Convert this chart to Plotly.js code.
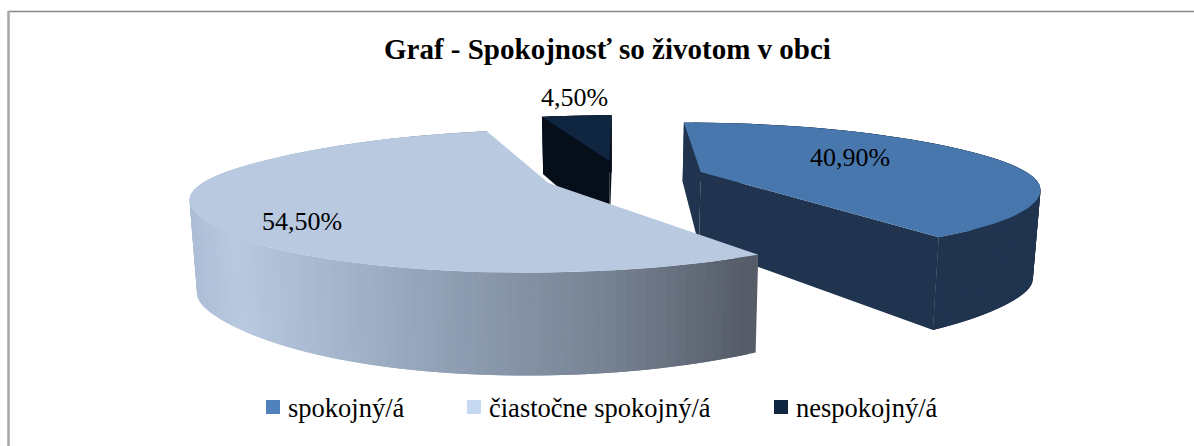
<!DOCTYPE html>
<html><head><meta charset="utf-8">
<script src="https://cdn.plot.ly/plotly-3.0.1.min.js"></script>
<style>html,body{margin:0;padding:0;background:#fff}</style></head>
<body><div id="chart" style="width:1194px;height:446px"></div>
<script>
const chartTitle = "Graf - Spokojnosť so životom v obci";
const categories = ["spokojný/á", "čiastočne spokojný/á", "nespokojný/á"];
const shares = [40.9, 54.5, 4.5];
const shareLabels = ["40,90%", "54,50%", "4,50%"];
const topColors = ["#4877ae", "#b8c9e0", "#0f2540"];
const sideColors = ["#20344f", "#b8c9e0", "#050e19"];
const legendColors = ["#4f81bd", "#c6d9f0", "#10253f"];
const explode = [0.28, 0.22, 0.27];
const nudgeX = [0, 0, 6];
const bulgeAmt = [0.022, 0.04, 0];
const labelXY = [[850, 157], [302, 221], [574, 97]];
const legendXY = [[266, 286], [467, 487], [774, 794]];
// light-slice side shading stops: [pixel x, r, g, b]
const shadeStops = [[190,172,189,214],[240,184,201,224],[470,142,157,177],[620,118,130,146],[756,86,92,104]];

// 3D perspective projection of the pie
const CX = 615, A = 325, K = 0.248, PA = 177, PB = -20.1;
function proj(X, Y, dx){ const w = 1 + K*Y; return [CX + dx + A*X/w, (PA + PB*Y)/w, w]; }
function bulge(t){ return Math.pow(Math.abs(Math.sin(t)), 8); }
function topPt(t, slice){
  const r = t === null ? 0 : 1 + bulgeAmt[slice]*bulge(t);
  const mid = sliceMid[slice], m = explode[slice];
  const X = m*Math.sin(mid) + (t === null ? 0 : r*Math.sin(t));
  const Y = m*Math.cos(mid) + (t === null ? 0 : Math.cos(t));
  const p = proj(X, Y, nudgeX[slice]);
  return {x:p[0], y:p[1], w:p[2], b:t === null ? 0 : bulge(t)};
}
function botPt(q){
  return {x: 612 + (q.x-612)*0.982, y: q.y + 75/q.w + 14*q.b};
}
const total = shares.reduce((a,b)=>a+b,0);
const sliceStart = [], sliceEnd = [], sliceMid = [];
shares.reduce((acc,v,i)=>{ const a=acc/total*2*Math.PI, b=(acc+v)/total*2*Math.PI;
  sliceStart[i]=a; sliceEnd[i]=b; sliceMid[i]=(a+b)/2; return acc+v; },0);

function poly(pts, color){
  return {type:'scatter', mode:'lines', x:pts.map(p=>p.x), y:pts.map(p=>p.y), fill:'toself',
    fillcolor:color, line:{color:color,width:0}, hoverinfo:'skip', showlegend:false};
}
function arc(i, n){ const out=[]; for(let k=0;k<=n;k++){ out.push(topPt(sliceStart[i]+(sliceEnd[i]-sliceStart[i])*k/n, i)); } return out; }
function shade(x){
  for(let i=1;i<shadeStops.length;i++){ const a=shadeStops[i-1], b=shadeStops[i];
    if(x<=b[0]){ const f=Math.max(0,(x-a[0])/(b[0]-a[0]));
      return 'rgb('+[1,2,3].map(c=>Math.round(a[c]+(b[c]-a[c])*f)).join(',')+')'; } }
  const l=shadeStops[shadeStops.length-1]; return 'rgb('+l[1]+','+l[2]+','+l[3]+')';
}
function wedgeTraces(i){
  const out=[], n=i===2?12:(i===1?140:70), ar=arc(i,n), apex=topPt(null,i);
  const first=ar[0], last=ar[n];
  // rim strips, each overlapping the next so no seams show
  for(let k=n-1;k>=0;k--){
    const a=ar[k], b=ar[Math.min(k+2,n)];
    out.push(poly([a,b,botPt(b),botPt(a)], i===1 ? shade((ar[k].x+ar[k+1].x)/2) : sideColors[i]));
  }
  if(i!==1) out.push(poly([apex,last,botPt(last),botPt(apex)], sideColors[i]));
  if(i!==1) out.push(poly([apex,first,botPt(first),botPt(apex)], sideColors[i]));
  out.push(poly([apex].concat(ar,[apex]), topColors[i]));
  return out;
}
const traces = [].concat(wedgeTraces(2), wedgeTraces(0), wedgeTraces(1));

const serif = '"Liberation Serif","Times New Roman",serif';
const annotations = [{text:'<b>'+chartTitle+'</b>', x:607, y:49, xref:'x', yref:'y', showarrow:false,
  font:{family:serif,size:29,color:'#000'}}];
shareLabels.forEach((t,i)=>annotations.push({text:t,x:labelXY[i][0],y:labelXY[i][1],xref:'x',yref:'y',showarrow:false,
  font:{family:serif,size:26,color:'#000'}}));
const shapes = [
  {type:'line',xref:'x',yref:'y',x0:8,y0:11.5,x1:1194,y1:11.5,line:{color:'#868686',width:1.5}},
  {type:'line',xref:'x',yref:'y',x0:8.5,y0:11,x1:8.5,y1:446,line:{color:'#a6a6a6',width:2.5}}
];
categories.forEach((c,i)=>{
  shapes.push({type:'rect',xref:'x',yref:'y',x0:legendXY[i][0],x1:legendXY[i][0]+14,y0:400,y1:414,line:{width:0},fillcolor:legendColors[i]});
  annotations.push({text:c,x:legendXY[i][1],y:408,xref:'x',yref:'y',xanchor:'left',showarrow:false,
    font:{family:serif,size:26.5,color:'#000'}});
});
Plotly.newPlot('chart', traces, {
  width:1194, height:446, margin:{l:0,r:0,t:0,b:0}, paper_bgcolor:'#fff', plot_bgcolor:'#fff', showlegend:false,
  xaxis:{range:[0,1194],visible:false,fixedrange:true},
  yaxis:{range:[446,0],visible:false,fixedrange:true},
  shapes:shapes, annotations:annotations
}, {displayModeBar:false, staticPlot:true});
</script></body></html>
